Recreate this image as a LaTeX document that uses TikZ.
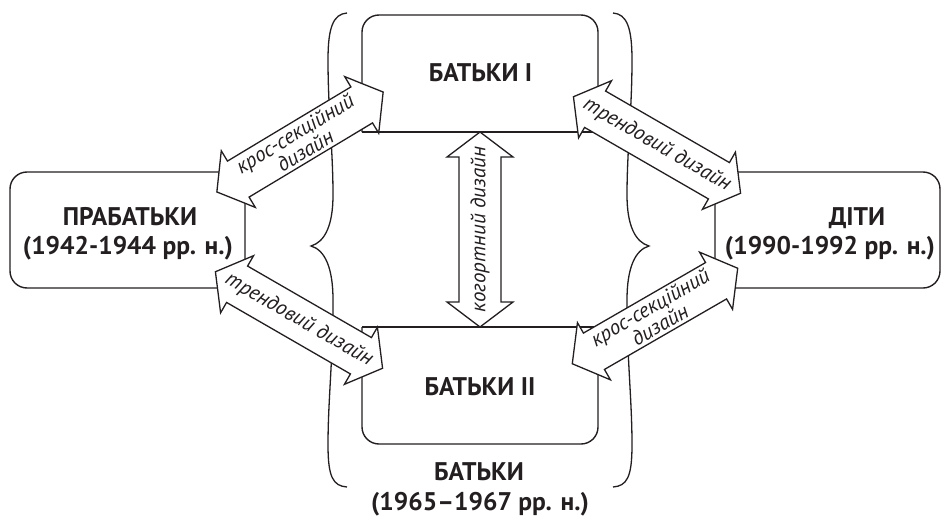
\documentclass[tikz,border=0pt]{standalone}
\usepackage{fontspec}
\setmainfont{PT Sans}
\definecolor{ink}{HTML}{231F20}
\newcommand\dblarr[5]{% #1 name, #2 center, #3 angle, #4 length, #5 text
  \begin{scope}[shift={#2}, rotate=#3]
    \pgfmathsetmacro\hh{#4/2}
    \draw[arrshape] (-\hh,0) -- ++(25,-33) -- ++(0,12) -- (\hh-25,-21) -- ++(0,-12)
      -- (\hh,0) -- ++(-25,33) -- ++(0,-12) -- (-\hh+25,21) -- ++(0,12) -- cycle;
    \node[atext, rotate=#3] (#1) at (0,0) {#5};
  \end{scope}}
\begin{document}
\begin{tikzpicture}[x=1pt,y=-1pt,
  boxline/.style={draw=ink, line width=1.4pt},
  boxnode/.style={inner sep=0pt, outer sep=0pt},
  lbl/.style={text=ink, font=\fontsize{25.5}{29}\selectfont\bfseries, anchor=base, inner sep=0pt},
  atext/.style={text=ink, font=\fontsize{21}{18.5}\selectfont\itshape, align=center, inner sep=0pt},
  arrshape/.style={draw=ink, fill=white, line width=1.3pt, line join=miter},
  bracel/.style={draw=ink, line width=1.3pt}]
\useasboundingbox (0,0) rectangle (949,516);

% braces
\draw[bracel] (347,13) .. controls (333,14) and (328,28) .. (328,60)
  .. controls (328,110) and (333,150) .. (333,195)
  .. controls (333,225) and (325,242) .. (311,246)
  .. controls (325,250) and (333,268) .. (333,300)
  .. controls (333,360) and (328,400) .. (328,445)
  .. controls (328,477) and (333,486) .. (347,487);
\draw[bracel] (613,13) .. controls (627,14) and (632,28) .. (632,60)
  .. controls (632,110) and (627,150) .. (627,195)
  .. controls (627,225) and (635,242) .. (649,246)
  .. controls (635,250) and (627,268) .. (627,300)
  .. controls (627,360) and (632,400) .. (632,445)
  .. controls (632,477) and (627,486) .. (613,487);

% boxes
\node[boxnode, boxline, rounded corners=17pt, minimum width=235pt, minimum height=116pt] (pra) at (127.5,230) {};
\node[boxnode, boxline, rounded corners=17pt, minimum width=225pt, minimum height=116pt] (diti) at (827.5,230) {};
\node[boxnode, minimum width=236pt, minimum height=117pt] (bat1) at (480,73.5) {};
\node[boxnode, minimum width=236pt, minimum height=117pt] (bat2) at (480,385.5) {};
\draw[boxline, rounded corners=17pt] (bat1.south west) -- (bat1.north west) -- (bat1.north east) -- (bat1.south east);
\draw[boxline] (bat1.south west) -- (bat1.south east);
\draw[boxline, rounded corners=17pt] (bat2.north west) -- (bat2.south west) -- (bat2.south east) -- (bat2.north east);
\draw[boxline] (bat2.north west) -- (bat2.north east);

% labels
\node[lbl] (praA) at (130,225) {ПРАБАТЬКИ};
\node[lbl] (praB) at (128,254) {(1942-1944 рр. н.)};
\node[lbl] (ditiA) at (857,225) {ДІТИ};
\node[lbl] (ditiB) at (830,254) {(1990-1992 рр. н.)};
\node[lbl] (bat1T) at (480.5,82) {БАТЬКИ I};
\node[lbl] (bat2T) at (480,395) {БАТЬКИ II};
\node[lbl] (batA) at (479,480) {БАТЬКИ};
\node[lbl] (batB) at (480,510) {(1965–1967 рр. н.)};

% block arrows
\dblarr{a1}{(300,142)}{31}{194}{крос-секційний\\дизайн}
\dblarr{a2}{(299,320)}{-30}{193}{трендовий дизайн}
\dblarr{a3}{(657,145)}{-30}{193}{трендовий дизайн}
\dblarr{a4}{(655,316)}{30}{191}{крос-секційний\\дизайн}
\dblarr{a5}{(480,229.5)}{90}{195}{когортний дизайн}
\end{tikzpicture}
\end{document}
